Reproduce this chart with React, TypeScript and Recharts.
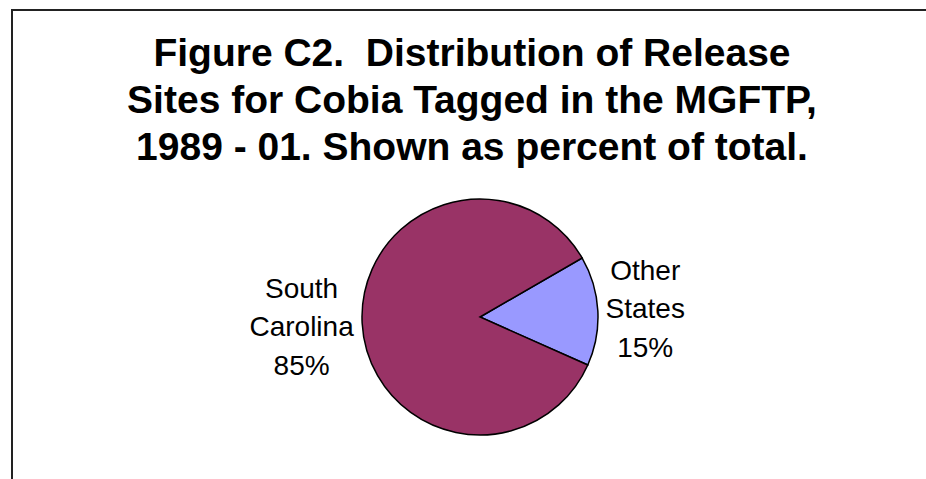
import React from "react";
import { PieChart, Pie, Cell } from "recharts";

// release sites, percent of total
const sites = ["Other States", "South Carolina"];
const percents = [15, 85];
const sliceColors = ["#9999FF", "#993366"];
const titleLines = [
  "Figure C2.  Distribution of Release",
  "Sites for Cobia Tagged in the MGFTP,",
  "1989 - 01. Shown as percent of total.",
];

const data = sites.map((name, i) => ({ name, value: percents[i] }));

const FONT = '"Liberation Sans", Arial, Helvetica, sans-serif';
const RADIAN = Math.PI / 180;
const LABEL_SIZE = 28;
const LABEL_LINE = 38.5;

// no scrollbars on the page
if (typeof document !== "undefined") {
  document.documentElement.style.overflow = "hidden";
  document.body.style.overflow = "hidden";
}

const renderLabel = (props: any) => {
  const { cx, cy, midAngle, outerRadius, name, percent } = props;
  const lines = [...String(name).split(" "), `${Math.round(percent * 100)}%`];
  const longest = Math.max(...lines.map((l) => l.length));
  const half = longest * LABEL_SIZE * 0.47 / 2;
  const r = outerRadius + 8 + half;
  const x = cx + r * Math.cos(-midAngle * RADIAN);
  const y = cy + r * Math.sin(-midAngle * RADIAN);
  const firstBaseline = y - LABEL_LINE * (lines.length - 1) / 2 + LABEL_SIZE * 0.36;
  return (
    <text
      x={x}
      y={firstBaseline}
      textAnchor="middle"
      fill="#000"
      style={{ fontFamily: FONT, fontSize: LABEL_SIZE }}
    >
      {lines.map((l, i) => (
        <tspan key={i} x={x} y={firstBaseline + i * LABEL_LINE}>
          {l}
        </tspan>
      ))}
    </text>
  );
};

export default function App() {
  return (
    <div
      style={{
        position: "absolute",
        left: 0,
        top: 0,
        width: 926,
        height: 479,
        overflow: "hidden",
        background: "#fff",
      }}
    >
      <svg
        width={926}
        height={479}
        style={{ position: "absolute", left: 0, top: 0 }}
      >
        <path d="M12,479 V10 H926" fill="none" stroke="#222" strokeWidth={2} />
      </svg>
      <div
        style={{
          position: "absolute",
          left: 19,
          top: 29,
          width: 906,
          textAlign: "center",
          fontFamily: FONT,
          fontWeight: "bold",
          fontSize: 39,
          lineHeight: "47px",
          whiteSpace: "pre",
          color: "#000",
        }}
      >
        {titleLines.map((t, i) => (
          <div key={i}>{t}</div>
        ))}
      </div>
      <div style={{ position: "absolute", left: 0, top: 0 }}>
        <PieChart
          width={926}
          height={479}
          margin={{ top: 0, right: 0, bottom: 0, left: 0 }}
        >
          <Pie
            data={data}
            dataKey="value"
            nameKey="name"
            cx={480}
            cy={317}
            outerRadius={118}
            startAngle={-24}
            endAngle={336}
            stroke="#000"
            strokeWidth={1.5}
            labelLine={false}
            label={renderLabel}
            isAnimationActive={false}
          >
            {data.map((entry, index) => (
              <Cell key={`cell-${index}`} fill={sliceColors[index]} />
            ))}
          </Pie>
        </PieChart>
      </div>
    </div>
  );
}
